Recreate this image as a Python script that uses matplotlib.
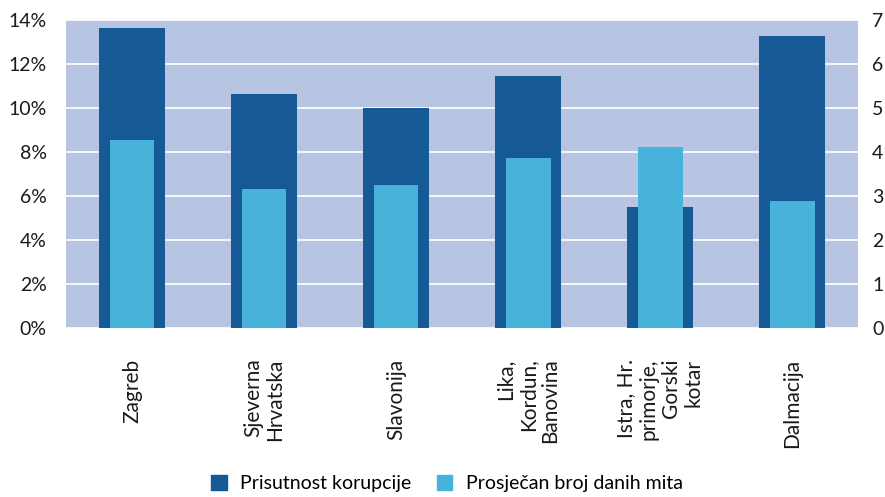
import matplotlib.pyplot as plt
import numpy as np
from matplotlib.patches import Patch

plt.rcParams['font.family'] = ['Lato', 'DejaVu Sans']

regije = ['Zagreb', 'Sjeverna\nHrvatska', 'Slavonija', 'Lika,\nKordun,\nBanovina',
          'Istra, Hr.\nprimorje,\nGorski\nkotar', 'Dalmacija']
prisutnost = [13.67, 10.66, 10.02, 11.48, 5.51, 13.30]   # %
broj_dana = [4.28, 3.17, 3.26, 3.87, 4.12, 2.89]         # dani

dark = '#155a94'
light = '#48b3da'
bg = '#b8c5e2'

fig = plt.figure(figsize=(8.85, 4.97), dpi=100)
ax = fig.add_axes([0.0746, 0.340, 0.895, 0.619])
ax2 = ax.twinx()

x = np.arange(len(regije))
ax.bar(x, prisutnost, width=0.5, color=dark, zorder=2)
ax2.bar(x, broj_dana, width=0.34, color=light, zorder=3)

ax.set_facecolor(bg)
ax.set_xlim(-0.5, len(regije) - 0.5)
ax.set_ylim(0, 14)
ax.set_yticks(range(0, 15, 2))
ax.set_yticklabels([f'{v}%' for v in range(0, 15, 2)])
ax2.set_ylim(0, 7)
ax2.set_yticks(range(0, 8))
ax.grid(axis='y', color='white', linewidth=1.2, zorder=1)
ax.set_axisbelow(True)

ax.set_xticks(x)
ax.set_xticklabels(regije, rotation=90, va='top', ha='center',
                   multialignment='right', fontsize=15, linespacing=1.15,
                   color='#1a1a1a')
ax.tick_params(axis='x', length=0, pad=22)
ax.tick_params(axis='y', length=0, pad=14, labelsize=14, labelcolor='#1a1a1a')
ax2.tick_params(axis='y', length=0, pad=10, labelsize=14, labelcolor='#1a1a1a')

for a in (ax, ax2):
    for s in a.spines.values():
        s.set_visible(False)

handles = [Patch(color=dark, label='Prisutnost korupcije'),
           Patch(color=light, label='Prosječan broj danih mita')]
fig.legend(handles=handles, loc='lower center', bbox_to_anchor=(0.505, -0.025),
           ncol=2, frameon=False, fontsize=14, handlelength=0.8,
           handleheight=0.8, columnspacing=1.3, handletextpad=0.7)

plt.savefig('out.png', dpi=100)
